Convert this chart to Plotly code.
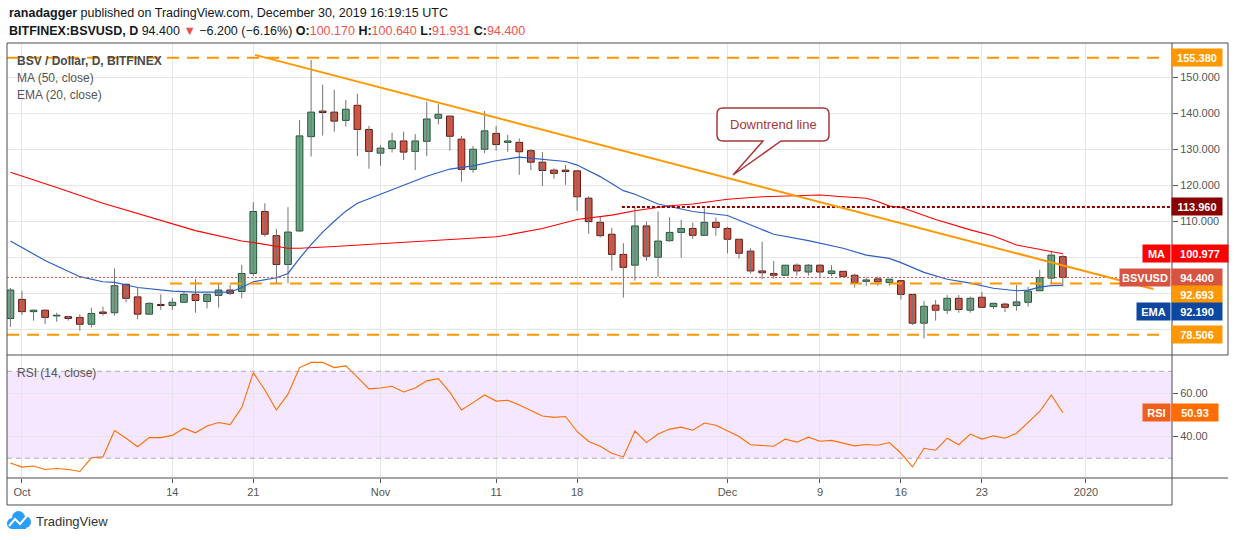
import plotly.graph_objects as go
import pandas as pd

# ---------------- data ----------------
dates = [d.strftime("%Y-%m-%d") for d in pd.date_range("2019-09-30", "2019-12-30", freq="D")]

opens = [83.0,
         88.3, 84.9, 85.3, 83.7, 83.5, 83.3, 81.4, 84.8, 84.6, 92.5, 89.0, 84.2, 86.9, 86.6, 87.5, 89.7,
         87.7, 89.4, 90.9, 90.5, 95.5, 112.7, 106.0, 98.0, 107.3, 133.5, 140.6, 140.3, 138.0, 142.2, 135.5,
         128.9, 130.2, 132.3, 129.4, 132.2, 138.6, 139.2, 132.8, 124.4, 130.0, 134.4, 131.9, 131.9, 129.6, 126.4,
         124.2, 124.2, 124.0, 116.4, 109.7, 106.4, 100.8, 97.8, 108.7, 100.0, 104.6, 106.9, 108.0, 106.1, 109.7,
         108.0, 105.0, 101.7, 96.2, 95.5, 95.0, 97.8, 95.9, 97.8, 95.5, 96.1, 95.0, 93.3, 94.0, 93.0,
         93.5, 89.7, 81.7, 86.7, 85.3, 88.6, 85.3, 88.9, 86.3, 87.0, 86.6, 87.5, 90.7, 94.2, 100.17]
highs = [91.5,
         90.7, 85.5, 85.5, 84.6, 83.7, 84.2, 86.0, 86.3, 96.9, 92.7, 91.6, 87.5, 89.7, 88.6, 90.5, 93.9,
         89.9, 92.8, 92.3, 97.9, 115.3, 115.0, 107.9, 113.9, 138.1, 154.8, 147.9, 146.5, 143.7, 145.4, 136.5,
         131.2, 134.6, 134.9, 134.2, 143.2, 142.5, 139.2, 133.7, 130.9, 140.6, 136.5, 134.0, 133.0, 130.0, 129.2,
         124.7, 125.6, 124.0, 117.0, 111.3, 108.2, 103.9, 113.9, 109.9, 112.7, 111.1, 110.4, 109.6, 113.6, 111.0,
         108.5, 105.0, 102.5, 104.3, 99.0, 97.8, 98.3, 98.1, 98.1, 97.8, 96.1, 95.5, 94.4, 94.6, 94.0,
         93.5, 89.7, 87.9, 88.1, 89.5, 89.5, 89.1, 90.4, 87.4, 87.4, 92.3, 91.8, 96.5, 101.8, 100.64]
lows = [80.7,
        84.0, 82.4, 81.5, 82.1, 82.4, 79.6, 80.5, 83.8, 83.8, 87.5, 82.8, 84.0, 85.4, 85.4, 87.3, 84.6,
        85.8, 86.0, 89.5, 88.6, 94.8, 105.7, 92.8, 92.8, 107.0, 128.0, 133.8, 134.9, 136.3, 128.1, 124.6,
        125.4, 129.1, 127.0, 124.2, 128.1, 136.9, 129.6, 121.0, 123.5, 128.9, 129.6, 129.3, 122.9, 124.2, 119.8,
        121.8, 120.1, 112.9, 106.5, 105.5, 96.3, 88.8, 93.5, 99.0, 94.6, 104.3, 99.9, 105.1, 106.1, 106.0,
        101.1, 99.6, 95.5, 93.9, 94.1, 95.0, 94.9, 94.9, 94.4, 94.8, 94.4, 91.6, 92.1, 92.1, 92.1,
        88.3, 81.2, 77.5, 82.4, 84.2, 84.6, 84.6, 86.1, 85.6, 84.8, 85.2, 86.3, 90.7, 92.8, 91.931]
closes = [90.9,
          84.9, 85.3, 83.3, 83.9, 83.0, 81.4, 84.4, 84.4, 92.1, 88.6, 84.2, 87.2, 86.6, 87.5, 89.7, 88.0,
          89.7, 90.9, 90.0, 95.5, 112.7, 106.4, 98.0, 107.0, 133.7, 140.3, 140.2, 137.8, 141.1, 135.5, 129.4,
          130.3, 132.3, 129.2, 132.3, 138.4, 139.7, 133.6, 124.4, 130.0, 135.1, 131.3, 132.3, 129.3, 126.4, 124.1,
          123.3, 123.8, 116.8, 109.9, 106.0, 100.8, 97.2, 108.7, 100.3, 104.5, 106.9, 108.0, 106.1, 109.7, 108.3,
          105.0, 101.1, 96.2, 95.7, 95.0, 97.8, 96.2, 97.8, 95.9, 96.2, 94.7, 93.0, 93.7, 93.2, 93.9,
          89.7, 81.7, 86.4, 85.3, 88.6, 85.5, 88.6, 86.1, 87.2, 86.1, 87.6, 90.6, 94.4, 100.6, 94.4]

ma_dates = ["2019-09-30", "2019-10-03", "2019-10-04", "2019-10-08", "2019-10-11", "2019-10-14", "2019-10-16",
            "2019-10-20", "2019-10-21", "2019-10-24", "2019-10-25", "2019-10-28", "2019-11-01", "2019-11-05",
            "2019-11-08", "2019-11-11", "2019-11-12", "2019-11-15", "2019-11-18", "2019-11-21", "2019-11-23",
            "2019-11-26", "2019-11-28", "2019-12-01", "2019-12-04", "2019-12-07", "2019-12-09", "2019-12-11",
            "2019-12-13", "2019-12-14", "2019-12-15", "2019-12-16", "2019-12-19", "2019-12-22", "2019-12-24",
            "2019-12-26", "2019-12-28", "2019-12-30"]
ma_values = [123.6, 120.5, 119.4, 115.0, 112.2, 109.3, 107.4, 104.5, 104.1, 102.5, 102.5, 103.0, 103.8, 104.6,
             105.2, 105.7, 106.2, 108.0, 110.5, 111.7, 112.9, 114.3, 114.8, 116.1, 116.8, 117.0, 117.3, 116.8,
             116.4, 115.5, 114.2, 113.9, 110.5, 107.6, 105.9, 103.4, 102.2, 100.977]

ema_dates = ["2019-09-30", "2019-10-03", "2019-10-06", "2019-10-08", "2019-10-09", "2019-10-11", "2019-10-14",
             "2019-10-16", "2019-10-19", "2019-10-20", "2019-10-21", "2019-10-23", "2019-10-24", "2019-10-25",
             "2019-10-26", "2019-10-27", "2019-10-28", "2019-10-29", "2019-10-30", "2019-10-31", "2019-11-01",
             "2019-11-03", "2019-11-05", "2019-11-07", "2019-11-09", "2019-11-10", "2019-11-11", "2019-11-13",
             "2019-11-15", "2019-11-17", "2019-11-18", "2019-11-20", "2019-11-22", "2019-11-23", "2019-11-25",
             "2019-11-27", "2019-11-28", "2019-12-01", "2019-12-04", "2019-12-05", "2019-12-08", "2019-12-10",
             "2019-12-11", "2019-12-13", "2019-12-15", "2019-12-16", "2019-12-18", "2019-12-20", "2019-12-22",
             "2019-12-24", "2019-12-26", "2019-12-27", "2019-12-28", "2019-12-29", "2019-12-30"]
ema_values = [104.5, 99.1, 94.6, 93.2, 93.0, 91.6, 90.6, 90.3, 90.3, 91.6, 93.2, 94.3, 95.5, 99.7,
              103.5, 107.0, 110.0, 112.8, 115.0, 116.3, 117.5, 120.0, 122.5, 124.5, 125.4, 126.2, 126.8, 127.8,
              127.3, 126.6, 125.6, 122.4, 118.5, 117.5, 114.8, 113.4, 112.7, 111.6, 107.6, 106.4, 104.6, 103.2,
              102.5, 100.6, 99.7, 98.5, 95.8, 93.9, 92.8, 91.4, 90.7, 90.9, 91.7, 92.1, 92.19]

rsi_values = [27.8,
              25.9, 26.4, 24.8, 25.3, 24.8, 23.9, 30.2, 30.6, 42.7, 39.2, 35.3, 39.5, 39.5, 40.5, 43.8, 41.7,
              44.8, 46.4, 45.5, 53.3, 69.4, 61.4, 52.2, 59.5, 71.7, 74.1, 74.1, 71.7, 72.5, 67.3, 61.9,
              62.3, 63.1, 60.5, 62.3, 65.6, 66.6, 60.3, 52.2, 55.6, 59.1, 56.3, 56.7, 54.5, 52.0, 49.4,
              48.8, 49.2, 42.3, 37.7, 35.5, 32.3, 30.6, 42.5, 37.2, 41.1, 43.4, 44.3, 42.9, 46.2, 45.2,
              42.6, 40.0, 36.2, 36.0, 35.5, 38.8, 37.4, 39.7, 37.8, 38.2, 36.9, 35.7, 36.3, 36.0, 37.2,
              32.3, 26.0, 34.6, 33.7, 39.2, 36.2, 41.1, 38.8, 40.3, 39.2, 41.5, 46.5, 51.5, 59.1, 50.93]

level_prices = [155.380, 92.693, 78.506]
level_starts = ["2019-09-29 16:53", "2019-10-13 19:00", "2019-09-29 16:53"]
level_end = "2020-01-07 13:40"
resistance_price = 113.960
resistance_start = "2019-11-21 21:00"
last_price = 94.400
prev_close = 100.600
ma_last = 100.977
ema_last = 92.190
rsi_last = 50.93
trend_dates = ["2019-10-21 03:30", "2020-01-06 20:00"]
trend_prices = [156.2, 91.2]

xtick_dates = ["2019-10-01", "2019-10-14", "2019-10-21", "2019-11-01", "2019-11-11", "2019-11-18",
               "2019-12-01", "2019-12-09", "2019-12-16", "2019-12-23", "2020-01-01"]
xtick_text = ["Oct", "14", "21", "Nov", "11", "18", "Dec", "9", "16", "23", "2020"]
price_ticks = [80, 90, 100, 110, 120, 130, 140, 150]
price_tick_text = ["", "", "", "110.000", "120.000", "130.000", "140.000", "150.000"]
rsi_ticks = [40, 60]
rsi_band = [30, 70]

# ---------------- layout geometry ----------------
W, H = 1234, 540
L, R, T, B = 7, 62, 43, 62
PW, PH = W - L - R, H - T - B
SPLIT = (H - B - 355) / PH
x_range = ["2019-09-29 16:53", "2020-01-08 10:33"]
FONT = "Liberation Sans"
GRID = "#e6e6e6"
TXT = "#555555"


def px(x):
    return (x - L) / PW


def py(y):
    return (H - B - y) / PH


def P(x, y):
    return f"{px(x):.5f},{py(y):.5f}"


fig = go.Figure()

# wicks
wx, wy = [], []
for d, lo, hi in zip(dates, lows, highs):
    wx += [d, d, None]
    wy += [lo, hi, None]
fig.add_trace(go.Scatter(x=wx, y=wy, mode="lines", line=dict(color="#737375", width=1),
                         xaxis="x", yaxis="y", hoverinfo="skip", showlegend=False))

# bodies
up = [c >= o for o, c in zip(opens, closes)]
fig.add_trace(go.Bar(
    x=dates, y=[c - o for o, c in zip(opens, closes)], base=opens, width=0.58 * 86400000,
    marker=dict(color=["#6ba583" if u else "#d75442" for u in up],
                line=dict(color=["#225437" if u else "#5b1a13" for u in up], width=1)),
    xaxis="x", yaxis="y", hoverinfo="skip", showlegend=False))

fig.add_trace(go.Scatter(x=ma_dates, y=ma_values, mode="lines", line=dict(color="#ff0000", width=1.1),
                         xaxis="x", yaxis="y", hoverinfo="skip", showlegend=False))
fig.add_trace(go.Scatter(x=ema_dates, y=ema_values, mode="lines", line=dict(color="#2c5fc4", width=1.2),
                         xaxis="x", yaxis="y", hoverinfo="skip", showlegend=False))
fig.add_trace(go.Scatter(x=dates, y=rsi_values, mode="lines", line=dict(color="#ff6d00", width=1.1),
                         xaxis="x2", yaxis="y2", hoverinfo="skip", showlegend=False))

shapes = []
# RSI band and bounds
shapes.append(dict(type="rect", xref="x2 domain", yref="y2", x0=0, x1=1, y0=rsi_band[0], y1=rsi_band[1],
                   fillcolor="rgba(153,21,255,0.10)", line=dict(width=0), layer="below"))
for v in rsi_band:
    shapes.append(dict(type="line", xref="x2 domain", yref="y2", x0=0, x1=1, y0=v, y1=v,
                       line=dict(color="#b0a8b8", width=1, dash="5px,4px")))
# orange horizontal levels
for v, s in zip(level_prices, level_starts):
    shapes.append(dict(type="line", xref="x", yref="y", x0=s, x1=level_end, y0=v, y1=v,
                       line=dict(color="#ff9800", width=2, dash="12px,8px")))
# resistance dotted
shapes.append(dict(type="line", xref="x", yref="y", x0=resistance_start, x1=x_range[1],
                   y0=resistance_price, y1=resistance_price,
                   line=dict(color="#8b0000", width=2.2, dash="3px,2px")))
# last price line
shapes.append(dict(type="line", xref="x domain", yref="y", x0=0, x1=1, y0=last_price, y1=last_price,
                   line=dict(color="#d75442", width=1, dash="2px,2px")))
# trend line
shapes.append(dict(type="line", xref="x", yref="y", x0=trend_dates[0], x1=trend_dates[1],
                   y0=trend_prices[0], y1=trend_prices[1], line=dict(color="#ff9800", width=2)))

# frame
FR = "#4d4d4d"
for (x0, y0, x1, y1) in [(7, 43, 1228, 43), (7, 355, 1228, 355), (7, 478, 1228, 478), (7, 505, 1172, 505),
                         (7, 43, 7, 505), (1172, 43, 1172, 505), (1228, 43, 1228, 355)]:
    shapes.append(dict(type="line", xref="paper", yref="paper", x0=px(x0), y0=py(y0), x1=px(x1), y1=py(y1),
                       line=dict(color=FR, width=1)))

# callout
callout = ("M" + P(723, 108) + " L" + P(823, 108) + " Q" + P(829, 108) + " " + P(829, 114) +
           " L" + P(829, 135) + " Q" + P(829, 141) + " " + P(823, 141) + " L" + P(781, 141) +
           " L" + P(733, 175) + " L" + P(763, 141) + " L" + P(723, 141) + " Q" + P(717, 141) + " " +
           P(717, 135) + " L" + P(717, 114) + " Q" + P(717, 108) + " " + P(723, 108) + " Z")
shapes.append(dict(type="path", xref="paper", yref="paper", path=callout, fillcolor="white",
                   line=dict(color="#a8373a", width=1.5)))

# TradingView logo (cloud)
LOGO = "#2a9df4"
for (x0, y0, x1, y1) in [(7, 518, 18, 529), (12, 511, 25, 524), (19, 516, 31, 528)]:
    shapes.append(dict(type="circle", xref="paper", yref="paper", x0=px(x0), x1=px(x1), y0=py(y0), y1=py(y1),
                       fillcolor=LOGO, line=dict(width=0)))
shapes.append(dict(type="rect", xref="paper", yref="paper", x0=px(12), x1=px(26), y0=py(521), y1=py(529),
                   fillcolor=LOGO, line=dict(width=0)))
shapes.append(dict(type="path", xref="paper", yref="paper",
                   path="M" + P(9, 526) + " L" + P(15, 519) + " L" + P(20, 524) + " L" + P(27, 516),
                   line=dict(color="white", width=2)))

ann = []


def text(x, y, s, size=12, color=TXT, anchor="left", **kw):
    ann.append(dict(xref="paper", yref="paper", x=px(x), y=py(y), text=s, showarrow=False,
                    xanchor=anchor, yanchor="middle", font=dict(family=FONT, size=size, color=color), **kw))


RED = "#ef5350"
chg = last_price - prev_close
pct = chg / prev_close * 100
text(7, 13, "<b>ranadagger</b> published on TradingView.com, December 30, 2019 16:19:15 UTC", 12.5, "#131722")
text(7, 31, f"<b>BITFINEX:BSVUSD, D</b> {last_price:.3f} <span style='color:{RED}'>▼</span> "
            f"−{abs(chg):.3f} (−{abs(pct):.2f}%) "
            f"<b>O:</b><span style='color:{RED}'>{opens[-1]:.3f}</span> "
            f"<b>H:</b><span style='color:{RED}'>{highs[-1]:.3f}</span> "
            f"<b>L:</b><span style='color:{RED}'>{lows[-1]:.3f}</span> "
            f"<b>C:</b><span style='color:{RED}'>{closes[-1]:.3f}</span>", 12.5, "#131722")
text(15, 61, "<b>BSV / Dollar, D, BITFINEX</b>", 12, "#4a4a4a")
text(15, 78, "MA (50, close)", 12, "#555555")
text(15, 95, "EMA (20, close)", 12, "#555555")
text(15, 373, "RSI (14, close)", 12, "#555555")
text(773, 124, "Downtrend line", 13, "#a8373a", anchor="center")
text(34, 521, "TradingView", 13, "#333333")


def tag(value, label_text, color, yref="y", shift=0, side="value", wpx=48):
    ann.append(dict(xref="paper", yref=yref, x=1, y=value, text="<b>" + label_text + "</b>", showarrow=False,
                    xanchor="left" if side == "value" else "right", yanchor="middle",
                    xshift=-1, yshift=shift,
                    width=wpx, height=15, borderpad=1, bgcolor=color, align="center",
                    font=dict(family=FONT, size=11, color="white")))


tag(level_prices[0], f"{level_prices[0]:.3f}", "#ff9800")
tag(resistance_price, f"{resistance_price:.3f}", "#880000")
tag(ma_last, "MA", "#ff0000", side="label", wpx=25)
tag(ma_last, f"{ma_last:.3f}", "#ff0000", wpx=54)
tag(last_price, "BSVUSD", "#d75442", side="label", wpx=48)
tag(last_price, f"{last_price:.3f}", "#d75442")
tag(level_prices[1], f"{level_prices[1]:.3f}", "#ff9800", shift=-11)
tag(ema_last, "EMA", "#0d47a1", shift=-26, side="label", wpx=31)
tag(ema_last, f"{ema_last:.3f}", "#0d47a1", shift=-26)
tag(level_prices[2], f"{level_prices[2]:.3f}", "#ff9800")
tag(rsi_last, "RSI", "#f0601c", yref="y2", side="label", wpx=25)
tag(rsi_last, f"{rsi_last:.2f}", "#ff6d00", yref="y2", wpx=44)

axis_common = dict(type="date", range=x_range, tickmode="array", tickvals=xtick_dates, ticktext=xtick_text,
                   showgrid=True, gridcolor=GRID, gridwidth=1, zeroline=False, showline=False)

fig.update_layout(
    width=W, height=H, autosize=False,
    margin=dict(l=L, r=R, t=T, b=B, pad=0),
    paper_bgcolor="white", plot_bgcolor="white",
    barmode="overlay", showlegend=False, hovermode=False,
    font=dict(family=FONT, size=11, color=TXT),
    xaxis=dict(domain=[0, 1], anchor="y", matches="x2", showticklabels=False, ticks="", **axis_common),
    xaxis2=dict(domain=[0, 1], anchor="y2", ticks="outside", ticklen=4, tickcolor=TXT,
                tickfont=dict(family=FONT, size=11, color=TXT), **axis_common),
    yaxis=dict(domain=[SPLIT, 1], anchor="x", range=[72.86, 159.5], side="right",
               tickmode="array", tickvals=price_ticks, ticktext=price_tick_text,
               ticks="outside", ticklen=5, tickcolor=TXT, tickfont=dict(family=FONT, size=11, color=TXT),
               showgrid=True, gridcolor=GRID, zeroline=False, showline=False),
    yaxis2=dict(domain=[0, SPLIT], anchor="x2", range=[20.9, 77.5], side="right",
                tickmode="array", tickvals=rsi_ticks, ticktext=[f"{v:.2f}" for v in rsi_ticks],
                ticks="outside", ticklen=5, tickcolor=TXT, tickfont=dict(family=FONT, size=11, color=TXT),
                showgrid=True, gridcolor=GRID, zeroline=False, showline=False),
    shapes=shapes,
    annotations=ann,
)

fig.write_html("out.html", config={"displayModeBar": False},
               post_script="document.body.style.margin='0';document.body.style.overflow='hidden';")
